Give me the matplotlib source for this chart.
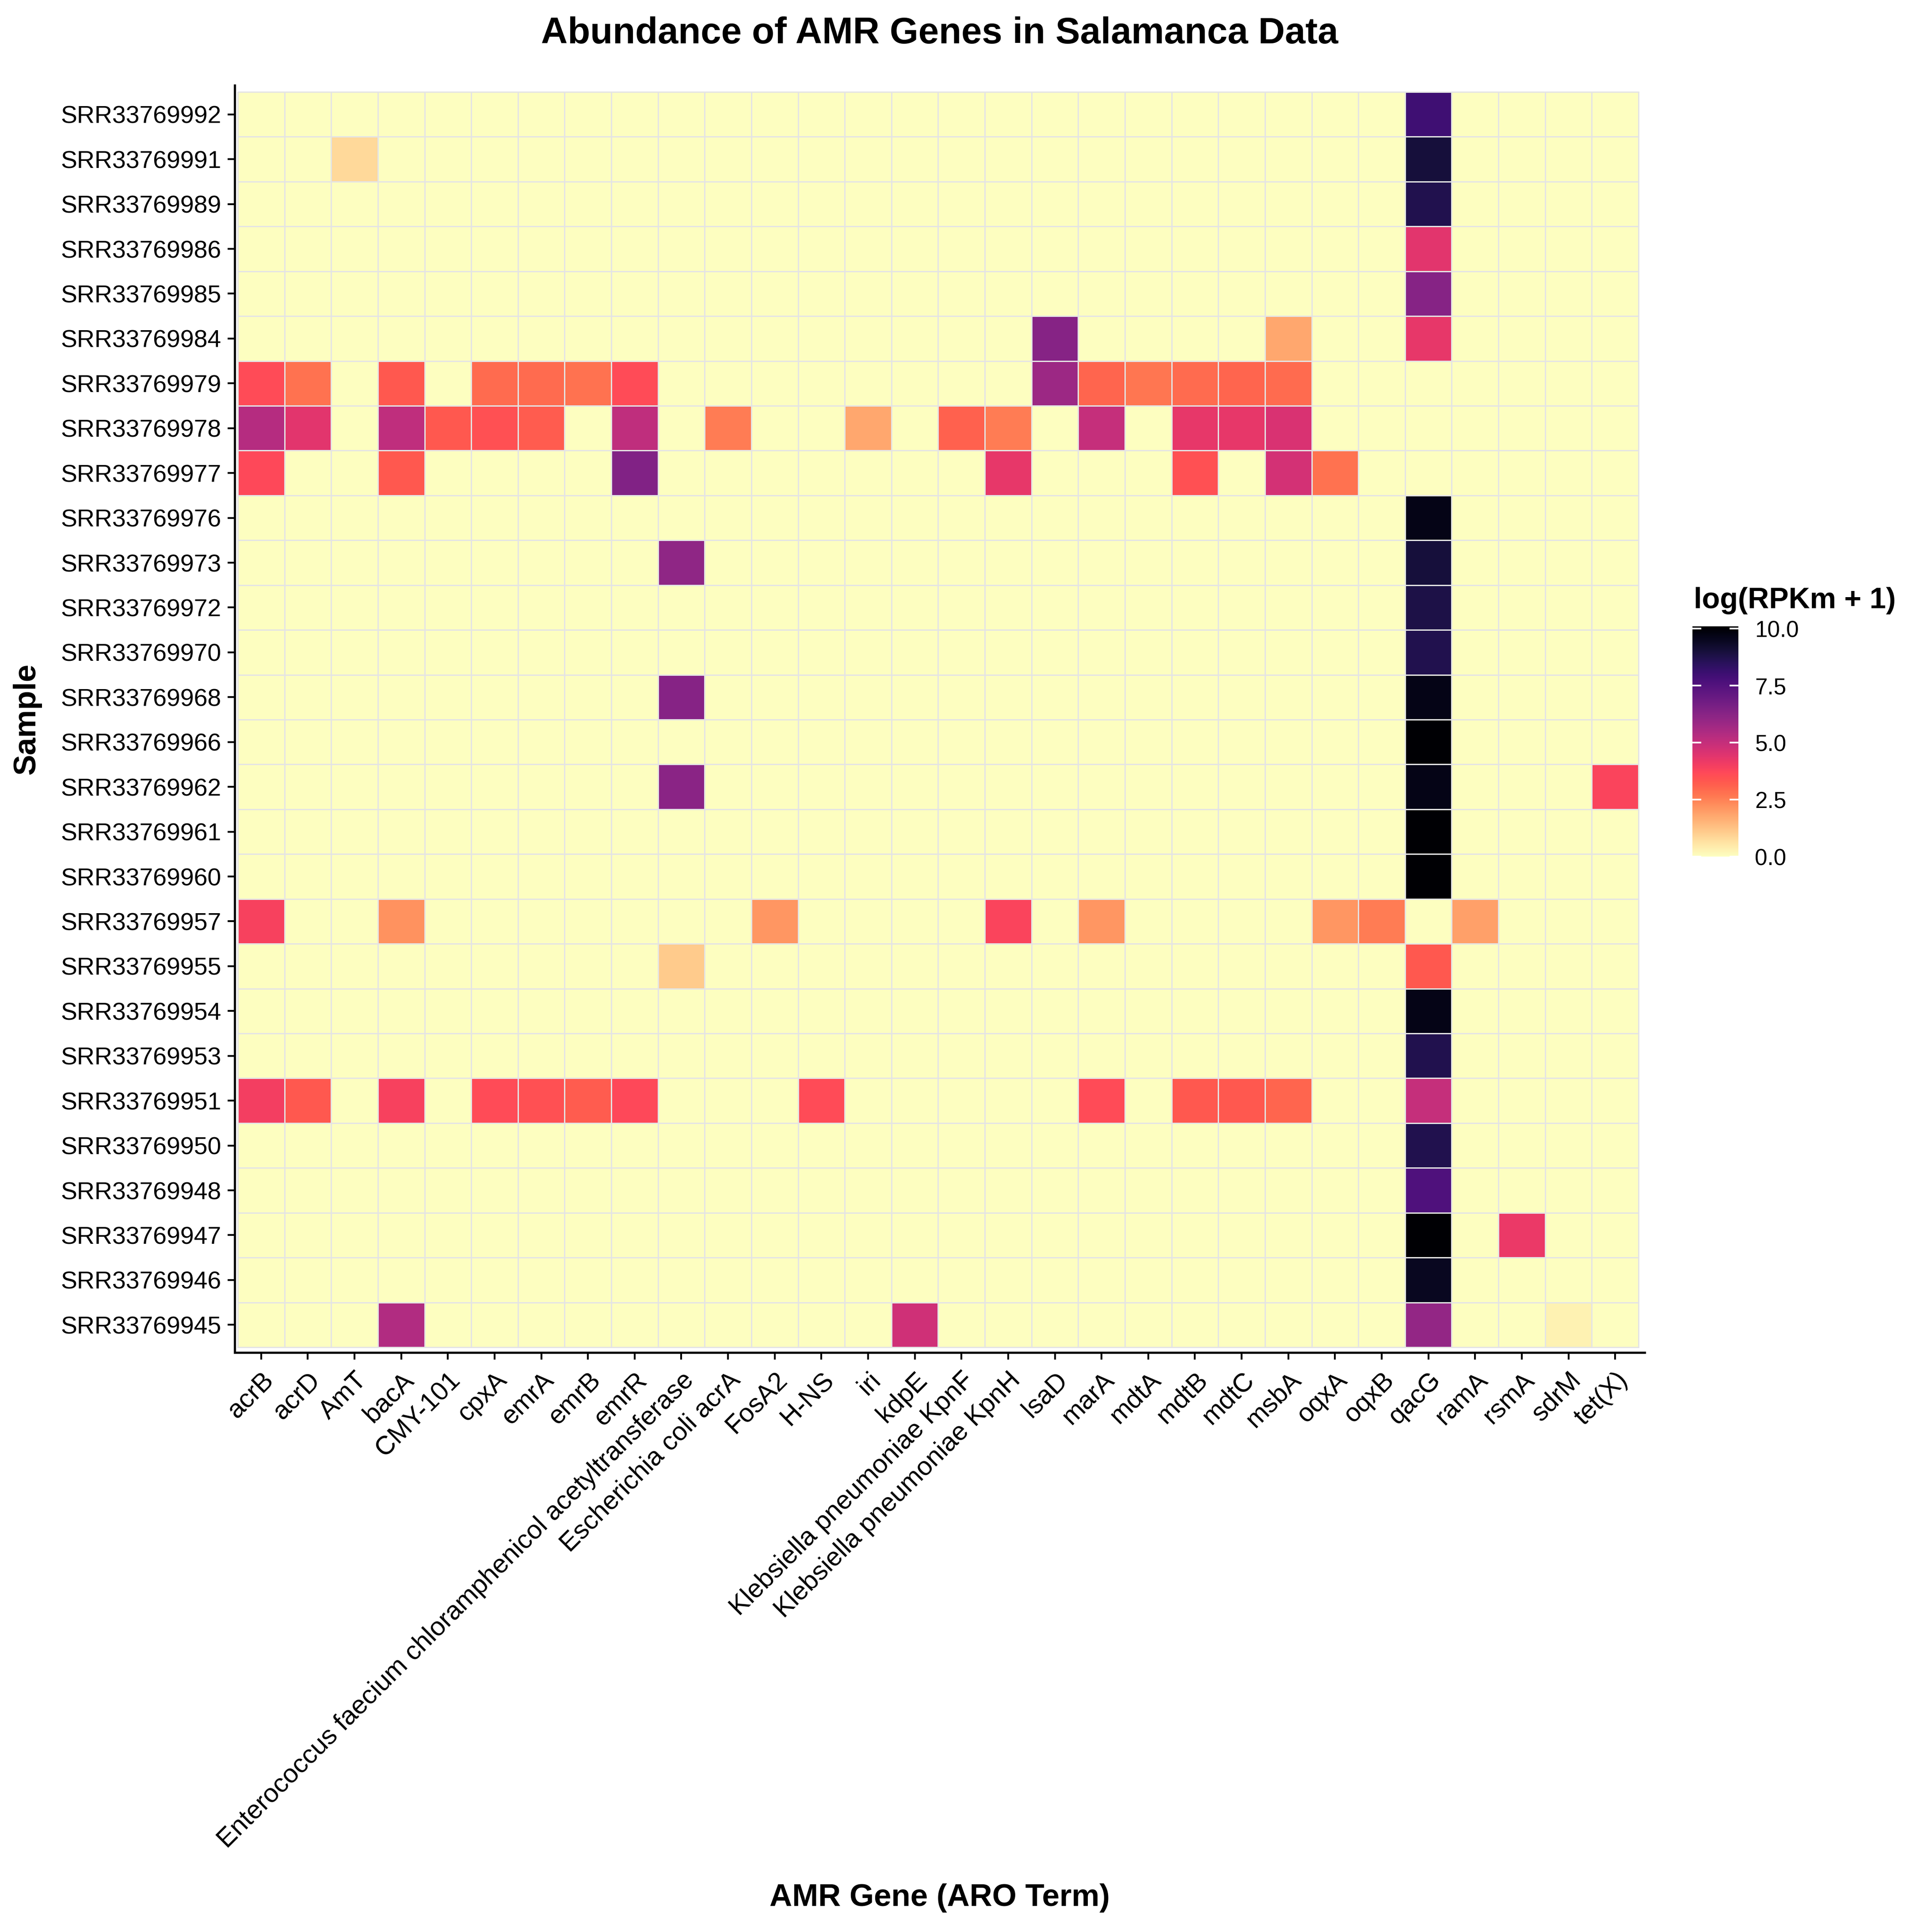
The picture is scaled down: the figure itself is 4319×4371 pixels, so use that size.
import numpy as np
import pandas as pd
import matplotlib
matplotlib.use("Agg")
import matplotlib.pyplot as plt
from matplotlib.colors import Normalize, ListedColormap, rgb_to_hsv, hsv_to_rgb

genes = ["acrB", "acrD", "AmT", "bacA", "CMY-101", "cpxA", "emrA", "emrB", "emrR",
         "Enterococcus faecium chloramphenicol acetyltransferase",
         "Escherichia coli acrA", "FosA2", "H-NS", "iri", "kdpE",
         "Klebsiella pneumoniae KpnF", "Klebsiella pneumoniae KpnH", "lsaD", "marA",
         "mdtA", "mdtB", "mdtC", "msbA", "oqxA", "oqxB", "qacG", "ramA", "rsmA",
         "sdrM", "tet(X)"]

samples = ["SRR33769992", "SRR33769991", "SRR33769989", "SRR33769986", "SRR33769985",
           "SRR33769984", "SRR33769979", "SRR33769978", "SRR33769977", "SRR33769976",
           "SRR33769973", "SRR33769972", "SRR33769970", "SRR33769968", "SRR33769966",
           "SRR33769962", "SRR33769961", "SRR33769960", "SRR33769957", "SRR33769955",
           "SRR33769954", "SRR33769953", "SRR33769951", "SRR33769950", "SRR33769948",
           "SRR33769947", "SRR33769946", "SRR33769945"]

ENT = "Enterococcus faecium chloramphenicol acetyltransferase"
ECA = "Escherichia coli acrA"
KPF = "Klebsiella pneumoniae KpnF"
KPH = "Klebsiella pneumoniae KpnH"

# non-zero cells: sample, gene, log(RPKm + 1)
cell_sample = (
    ["SRR33769992"]
    + ["SRR33769991"] * 2
    + ["SRR33769989", "SRR33769986", "SRR33769985"]
    + ["SRR33769984"] * 3
    + ["SRR33769979"] * 13
    + ["SRR33769978"] * 15
    + ["SRR33769977"] * 7
    + ["SRR33769976"]
    + ["SRR33769973"] * 2
    + ["SRR33769972", "SRR33769970"]
    + ["SRR33769968"] * 2
    + ["SRR33769966"]
    + ["SRR33769962"] * 3
    + ["SRR33769961", "SRR33769960"]
    + ["SRR33769957"] * 8
    + ["SRR33769955"] * 2
    + ["SRR33769954", "SRR33769953"]
    + ["SRR33769951"] * 13
    + ["SRR33769950", "SRR33769948"]
    + ["SRR33769947"] * 2
    + ["SRR33769946"]
    + ["SRR33769945"] * 4
)
cell_gene = (
    ["qacG"]
    + ["AmT", "qacG"]
    + ["qacG", "qacG", "qacG"]
    + ["lsaD", "msbA", "qacG"]
    + ["acrB", "acrD", "bacA", "cpxA", "emrA", "emrB", "emrR", "lsaD", "marA", "mdtA",
       "mdtB", "mdtC", "msbA"]
    + ["acrB", "acrD", "bacA", "CMY-101", "cpxA", "emrA", "emrR", ECA, "iri", KPF, KPH,
       "marA", "mdtB", "mdtC", "msbA"]
    + ["acrB", "bacA", "emrR", KPH, "mdtB", "msbA", "oqxA"]
    + ["qacG"]
    + [ENT, "qacG"]
    + ["qacG", "qacG"]
    + [ENT, "qacG"]
    + ["qacG"]
    + [ENT, "qacG", "tet(X)"]
    + ["qacG", "qacG"]
    + ["acrB", "bacA", "FosA2", KPH, "marA", "oqxA", "oqxB", "ramA"]
    + [ENT, "qacG"]
    + ["qacG", "qacG"]
    + ["acrB", "acrD", "bacA", "cpxA", "emrA", "emrB", "emrR", "H-NS", "marA", "mdtB",
       "mdtC", "msbA", "qacG"]
    + ["qacG", "qacG"]
    + ["qacG", "rsmA"]
    + ["qacG"]
    + ["bacA", "kdpE", "qacG", "sdrM"]
)
cell_value = (
    [8.0]
    + [0.8, 9.0]
    + [8.7, 4.4, 6.3]
    + [6.3, 1.8, 4.3]
    + [3.6, 2.8, 3.3, 2.9, 2.9, 2.8, 3.6, 5.8, 3.0, 2.7, 2.9, 3.0, 2.9]
    + [5.3, 4.4, 5.1, 3.3, 3.5, 3.2, 5.1, 2.6, 1.8, 3.1, 2.6, 5.0, 4.3, 4.3, 4.6]
    + [3.7, 3.3, 6.4, 4.3, 3.5, 4.7, 2.8]
    + [9.7]
    + [6.1, 9.0]
    + [8.8, 8.7]
    + [6.3, 9.7]
    + [10.1]
    + [6.2, 9.7, 3.8]
    + [10.1, 10.1]
    + [3.9, 2.2, 2.1, 3.8, 2.1, 2.1, 2.6, 1.9]
    + [1.1, 3.3]
    + [9.7, 8.7]
    + [4.0, 3.3, 3.9, 3.6, 3.5, 3.2, 3.7, 3.6, 3.6, 3.3, 3.3, 3.0, 5.0]
    + [8.7, 7.6]
    + [10.1, 4.2]
    + [9.5]
    + [5.4, 4.8, 6.0, 0.3]
)

tick_values = [0, 2.5, 5.0, 7.5, 10.0]
tick_labels = ["0.0", "2.5", "5.0", "7.5", "10.0"]

plt.rcParams["font.family"] = ["Liberation Sans", "DejaVu Sans"]

# reversed magma, with its red/pink middle range made a little more vivid
base = plt.get_cmap("magma_r")(np.linspace(0, 1, 256))[:, :3]
hsv = rgb_to_hsv(base)
pos = np.linspace(0, 1, 256)
w = np.exp(-((pos - 0.38) / 0.22) ** 2)
hsv[:, 1] = np.clip(hsv[:, 1] * (1 + 0.12 * w), 0, 1)
hsv[:, 2] = np.clip(hsv[:, 2] * (1 + 0.09 * w), 0, 1)
cmap = ListedColormap(hsv_to_rgb(hsv))

W, H = 4319, 4371
DPI = 300
fig = plt.figure(figsize=(W / DPI, H / DPI), dpi=DPI)
fig.patch.set_facecolor("white")

mat = pd.DataFrame(0.0, index=samples, columns=genes)
for s, g, v in zip(cell_sample, cell_gene, cell_value):
    mat.loc[s, g] = v

vmax = float(mat.values.max())
norm = Normalize(vmin=0, vmax=vmax)

ax = fig.add_axes([531 / W, 1 - 3060 / H, (3721 - 531) / W, (3060 - 193) / H])
xe = np.arange(len(genes) + 1) - 0.5
ye = np.arange(len(samples) + 1) - 0.5
mesh = ax.pcolormesh(xe, ye, mat.values, cmap=cmap, norm=norm,
                     edgecolors="#E4E4E4", linewidth=0.6)
ax.set_xlim(-0.566, len(genes) - 0.5 + 0.133)
ax.set_ylim(len(samples) - 0.5 + 0.118, -0.648)

ax.set_xticks(np.arange(len(genes)))
ax.set_xticklabels(genes, rotation=45, ha="right", va="top",
                   rotation_mode="anchor", fontsize=14.2)
ax.set_yticks(np.arange(len(samples)))
ax.set_yticklabels(samples, fontsize=13.3)
for sp in ["top", "right"]:
    ax.spines[sp].set_visible(False)
for sp in ["left", "bottom"]:
    ax.spines[sp].set_linewidth(1.2)
    ax.spines[sp].set_color("black")
ax.tick_params(axis="both", length=3.8, width=1.0, color="black",
               labelcolor="black", pad=3.5)
ax.tick_params(axis="x", pad=4.5)

fig.text(2126 / W, 1 - 76 / H, "Abundance of AMR Genes in Salamanca Data",
         ha="center", va="center", fontsize=20, fontweight="bold")
fig.text(61 / W, 1 - 1626 / H, "Sample", rotation=90, ha="center", va="center",
         fontsize=17, fontweight="bold")
fig.text(2126 / W, 1 - 4294 / H, "AMR Gene (ARO Term)", ha="center", va="center",
         fontsize=17, fontweight="bold")

cax = fig.add_axes([3829 / W, 1 - 1938 / H, (3933 - 3829) / W, (1938 - 1417) / H])
cb = fig.colorbar(mesh, cax=cax, ticks=tick_values)
cb.outline.set_visible(False)
cb.set_ticklabels(tick_labels)
cax.yaxis.set_ticks_position("both")
cax.tick_params(axis="y", which="major", direction="in", color="white", length=4.8,
                width=0.9, labelsize=12.3, pad=9, labelleft=False, labelright=True)
cax.minorticks_off()
fig.text(3832 / W, 1 - 1376 / H, "log(RPKm + 1)", ha="left", va="baseline",
         fontsize=16, fontweight="bold")

fig.savefig("out.png", dpi=DPI, facecolor="white")
